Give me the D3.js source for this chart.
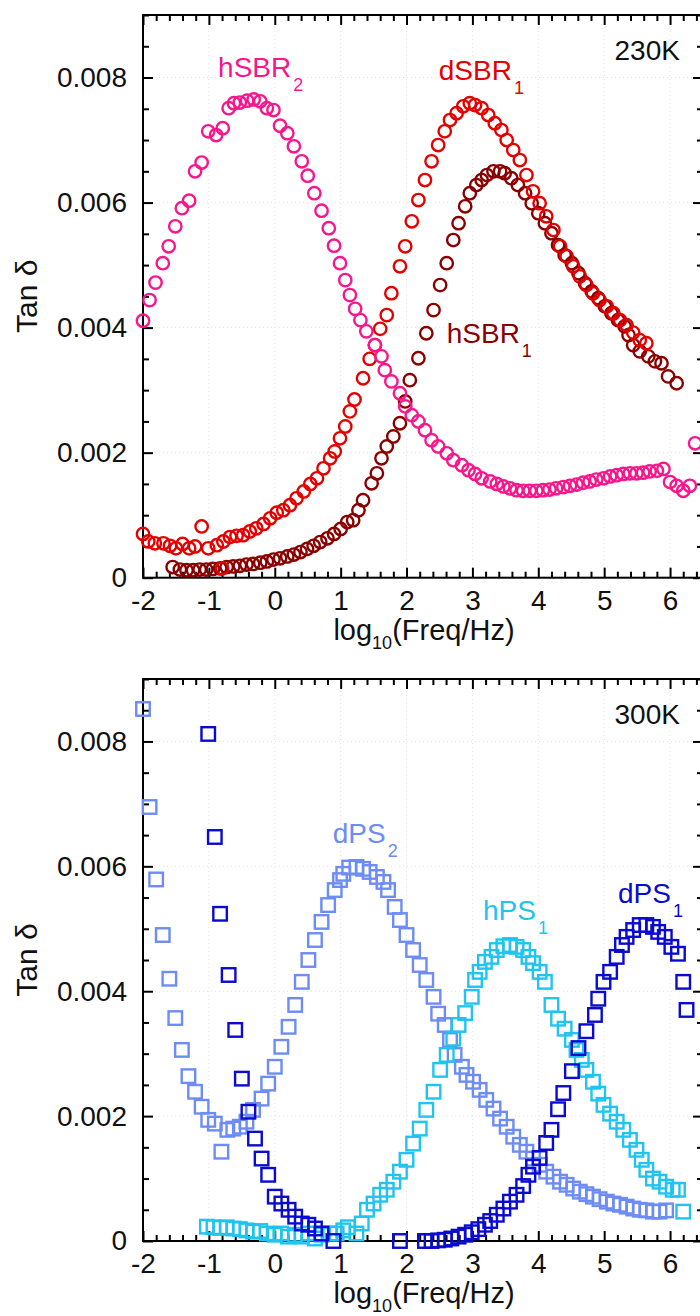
<!DOCTYPE html>
<html><head><meta charset="utf-8">
<script src="https://cdn.jsdelivr.net/npm/d3@7"></script>
<style>
body{margin:0;background:#fff}
svg{display:block}
text{font-family:"Liberation Sans",Arial,sans-serif}
</style>
</head><body><svg id="c" width="700" height="1316"></svg>
<script>
// ---------- DATA (x = log10(Freq/Hz), y = Tan delta) ----------
const xTicks = [-2,-1,0,1,2,3,4,5,6];
const yTicks = [0,0.002,0.004,0.006,0.008];

// 230 K
const hSBR2 = [[-2.00,0.00411],[-1.90,0.00444],[-1.81,0.00472],[-1.70,0.00503],[-1.61,0.00530],[-1.51,0.00562],[-1.41,0.00591],[-1.30,0.00603],[-1.21,0.00650],[-1.11,0.00664],[-1.01,0.00714],[-0.89,0.00708],[-0.79,0.00719],[-0.70,0.00751],[-0.62,0.00759],[-0.53,0.00760],[-0.42,0.00763],[-0.32,0.00765],[-0.22,0.00762],[-0.12,0.00751],[-0.02,0.00748],[0.08,0.00723],[0.19,0.00711],[0.29,0.00690],[0.41,0.00666],[0.50,0.00643],[0.60,0.00615],[0.71,0.00587],[0.82,0.00559],[0.90,0.00531],[0.99,0.00503],[1.07,0.00476],[1.14,0.00452],[1.22,0.00430],[1.30,0.00412],[1.39,0.00394],[1.52,0.00372],[1.62,0.00354],[1.67,0.00332],[1.77,0.00314],[1.90,0.00295],[1.98,0.00274],[2.08,0.00260],[2.18,0.00250],[2.28,0.00236],[2.38,0.00220],[2.48,0.00210],[2.61,0.00199],[2.71,0.00188],[2.84,0.00180],[2.94,0.00172],[3.04,0.00166],[3.14,0.00159],[3.27,0.00154],[3.37,0.00150],[3.47,0.00146],[3.57,0.00143],[3.67,0.00140],[3.77,0.00139],[3.87,0.00139],[3.97,0.00139],[4.07,0.00140],[4.17,0.00141],[4.27,0.00143],[4.38,0.00145],[4.48,0.00147],[4.58,0.00149],[4.68,0.00152],[4.78,0.00154],[4.88,0.00157],[4.99,0.00159],[5.09,0.00162],[5.19,0.00164],[5.29,0.00166],[5.39,0.00167],[5.49,0.00167],[5.59,0.00168],[5.69,0.00170],[5.80,0.00171],[5.90,0.00174],[6.00,0.00153],[6.10,0.00147],[6.20,0.00139],[6.30,0.00147],[6.38,0.00215]];

const dSBR1 = [[-2.00,0.00070],[-1.92,0.00058],[-1.82,0.00055],[-1.69,0.00055],[-1.59,0.00051],[-1.50,0.00047],[-1.40,0.00054],[-1.30,0.00047],[-1.21,0.00050],[-1.11,0.00082],[-1.01,0.00047],[-0.88,0.00052],[-0.80,0.00015],[-0.78,0.00058],[-0.68,0.00065],[-0.58,0.00067],[-0.48,0.00068],[-0.38,0.00074],[-0.28,0.00079],[-0.17,0.00086],[-0.07,0.00095],[0.03,0.00104],[0.13,0.00108],[0.23,0.00116],[0.33,0.00127],[0.44,0.00138],[0.54,0.00150],[0.64,0.00159],[0.74,0.00175],[0.84,0.00191],[0.91,0.00202],[0.99,0.00223],[1.07,0.00242],[1.14,0.00266],[1.21,0.00285],[1.34,0.00319],[1.44,0.00350],[1.52,0.00372],[1.60,0.00398],[1.70,0.00420],[1.77,0.00455],[1.90,0.00498],[1.98,0.00530],[2.08,0.00570],[2.18,0.00604],[2.28,0.00636],[2.38,0.00666],[2.48,0.00692],[2.58,0.00714],[2.66,0.00732],[2.76,0.00743],[2.86,0.00754],[2.96,0.00759],[3.04,0.00756],[3.14,0.00751],[3.24,0.00740],[3.34,0.00727],[3.44,0.00716],[3.52,0.00700],[3.62,0.00684],[3.72,0.00668],[3.82,0.00644],[3.92,0.00618],[4.02,0.00599],[4.12,0.00578],[4.23,0.00556],[4.33,0.00530],[4.43,0.00514],[4.53,0.00498],[4.63,0.00482],[4.73,0.00468],[4.83,0.00455],[4.93,0.00444],[5.04,0.00434],[5.14,0.00423],[5.24,0.00412],[5.34,0.00404],[5.44,0.00392],[5.54,0.00380],[5.64,0.00375]];

const hSBR1 = [[-1.55,0.00017],[-1.44,0.00013],[-1.34,0.00012],[-1.24,0.00012],[-1.14,0.00013],[-1.04,0.00013],[-0.94,0.00014],[-0.83,0.00015],[-0.73,0.00017],[-0.63,0.00018],[-0.53,0.00019],[-0.43,0.00021],[-0.33,0.00022],[-0.22,0.00024],[-0.12,0.00026],[-0.02,0.00029],[0.08,0.00031],[0.19,0.00034],[0.29,0.00037],[0.39,0.00041],[0.49,0.00046],[0.59,0.00051],[0.69,0.00057],[0.80,0.00063],[0.90,0.00070],[1.00,0.00078],[1.10,0.00089],[1.19,0.00092],[1.27,0.00108],[1.34,0.00124],[1.47,0.00151],[1.55,0.00167],[1.62,0.00191],[1.70,0.00210],[1.80,0.00226],[1.90,0.00247],[1.98,0.00282],[2.05,0.00316],[2.18,0.00351],[2.30,0.00391],[2.41,0.00428],[2.51,0.00468],[2.61,0.00503],[2.71,0.00540],[2.79,0.00567],[2.89,0.00594],[2.96,0.00615],[3.06,0.00628],[3.14,0.00636],[3.22,0.00644],[3.32,0.00650],[3.42,0.00650],[3.49,0.00647],[3.59,0.00639],[3.69,0.00628],[3.80,0.00615],[3.90,0.00599],[4.00,0.00583],[4.10,0.00567],[4.20,0.00551],[4.30,0.00532],[4.40,0.00516],[4.51,0.00503],[4.61,0.00487],[4.71,0.00471],[4.81,0.00458],[4.91,0.00447],[5.01,0.00434],[5.11,0.00423],[5.21,0.00412],[5.31,0.00402],[5.37,0.00388],[5.44,0.00372],[5.54,0.00362],[5.67,0.00354],[5.77,0.00346],[5.87,0.00343],[5.97,0.00322],[6.10,0.00311]];

// 300 K
const dPS2 = [[-2.00,0.00852],[-1.90,0.00695],[-1.80,0.00579],[-1.70,0.00490],[-1.60,0.00420],[-1.51,0.00357],[-1.41,0.00306],[-1.31,0.00264],[-1.21,0.00239],[-1.11,0.00215],[-1.01,0.00194],[-0.91,0.00188],[-0.81,0.00143],[-0.72,0.00178],[-0.63,0.00180],[-0.53,0.00183],[-0.43,0.00191],[-0.33,0.00210],[-0.20,0.00228],[-0.10,0.00252],[0.00,0.00279],[0.10,0.00311],[0.21,0.00343],[0.31,0.00378],[0.41,0.00415],[0.51,0.00450],[0.61,0.00482],[0.71,0.00511],[0.81,0.00538],[0.91,0.00562],[0.99,0.00578],[1.04,0.00588],[1.13,0.00598],[1.24,0.00599],[1.34,0.00596],[1.44,0.00591],[1.55,0.00583],[1.65,0.00575],[1.72,0.00562],[1.82,0.00535],[1.90,0.00514],[2.00,0.00490],[2.10,0.00466],[2.20,0.00442],[2.30,0.00418],[2.41,0.00391],[2.48,0.00364],[2.58,0.00346],[2.66,0.00322],[2.73,0.00298],[2.84,0.00279],[2.91,0.00266],[3.01,0.00255],[3.11,0.00242],[3.21,0.00226],[3.32,0.00212],[3.42,0.00196],[3.52,0.00183],[3.62,0.00167],[3.72,0.00154],[3.82,0.00143],[3.92,0.00132],[4.02,0.00122],[4.12,0.00111],[4.23,0.00103],[4.33,0.00095],[4.43,0.00090],[4.53,0.00084],[4.63,0.00079],[4.73,0.00075],[4.83,0.00071],[4.93,0.00067],[5.04,0.00063],[5.14,0.00060],[5.24,0.00058],[5.34,0.00055],[5.44,0.00052],[5.54,0.00050],[5.64,0.00049],[5.74,0.00047],[5.84,0.00047],[5.94,0.00049]];

const hPS1 = [[-1.03,0.00023],[-0.93,0.00022],[-0.83,0.00021],[-0.73,0.00022],[-0.63,0.00020],[-0.53,0.00019],[-0.43,0.00017],[-0.33,0.00015],[-0.22,0.00016],[-0.12,0.00012],[0.00,0.00010],[0.10,0.00012],[0.20,0.00007],[0.31,0.00010],[0.41,0.00007],[0.51,0.00012],[0.61,0.00004],[0.71,0.00010],[0.84,0.00012],[0.94,0.00012],[1.04,0.00017],[1.11,0.00022],[1.24,0.00012],[1.32,0.00028],[1.40,0.00050],[1.50,0.00060],[1.60,0.00074],[1.70,0.00082],[1.80,0.00095],[1.90,0.00111],[2.00,0.00130],[2.10,0.00156],[2.20,0.00180],[2.30,0.00210],[2.41,0.00239],[2.51,0.00274],[2.61,0.00298],[2.71,0.00324],[2.79,0.00346],[2.89,0.00365],[2.99,0.00391],[3.04,0.00418],[3.11,0.00431],[3.19,0.00447],[3.29,0.00455],[3.37,0.00466],[3.47,0.00472],[3.57,0.00474],[3.67,0.00471],[3.77,0.00466],[3.85,0.00455],[3.92,0.00445],[4.02,0.00431],[4.10,0.00415],[4.20,0.00378],[4.30,0.00356],[4.40,0.00340],[4.51,0.00322],[4.58,0.00306],[4.66,0.00290],[4.73,0.00274],[4.83,0.00255],[4.91,0.00236],[4.99,0.00218],[5.09,0.00204],[5.19,0.00191],[5.29,0.00178],[5.39,0.00162],[5.49,0.00146],[5.57,0.00130],[5.64,0.00114],[5.74,0.00100],[5.84,0.00095],[5.94,0.00087],[6.04,0.00082],[6.12,0.00082],[6.20,0.00047]];

const dPS1 = [[-1.01,0.00812],[-0.91,0.00647],[-0.83,0.00524],[-0.70,0.00426],[-0.60,0.00338],[-0.50,0.00260],[-0.40,0.00207],[-0.30,0.00164],[-0.20,0.00132],[-0.10,0.00106],[0.00,0.00071],[0.10,0.00060],[0.21,0.00050],[0.31,0.00039],[0.41,0.00028],[0.51,0.00026],[0.61,0.00020],[0.71,0.00012],[0.89,0.00000],[1.90,0.00000],[2.28,0.00000],[2.38,0.00000],[2.48,0.00001],[2.58,0.00002],[2.68,0.00004],[2.79,0.00007],[2.89,0.00010],[2.99,0.00014],[3.09,0.00019],[3.19,0.00026],[3.27,0.00032],[3.37,0.00042],[3.47,0.00052],[3.57,0.00063],[3.67,0.00074],[3.77,0.00088],[3.85,0.00106],[3.92,0.00119],[4.02,0.00133],[4.12,0.00157],[4.20,0.00178],[4.30,0.00211],[4.38,0.00237],[4.51,0.00272],[4.61,0.00309],[4.73,0.00336],[4.86,0.00362],[4.91,0.00388],[4.99,0.00415],[5.09,0.00431],[5.19,0.00455],[5.27,0.00474],[5.34,0.00487],[5.44,0.00498],[5.54,0.00506],[5.64,0.00506],[5.74,0.00503],[5.82,0.00495],[5.92,0.00487],[6.02,0.00471],[6.12,0.00460],[6.20,0.00415],[6.25,0.00370]];

// ---------- LAYOUT ----------
const svg = d3.select("#c");
const FONT = 28, SUB = 18;
const panels = [
  { top:15, bottom:577.7, temp:"230K", shape:"circle",
    series:[
      {name:"hSBR", sub:"1", data:hSBR1, color:"#8a0000", lx:2.61, ly:0.003755},
      {name:"dSBR", sub:"1", data:dSBR1, color:"#e50000", lx:2.49, ly:0.00796},
      {name:"hSBR", sub:"2", data:hSBR2, color:"#f8168c", lx:-0.86, ly:0.00801}
    ]},
  { top:679, bottom:1241, temp:"300K", shape:"square",
    series:[
      {name:"dPS", sub:"2", data:dPS2, color:"#6d8cf5", lx:0.88, ly:0.00638},
      {name:"hPS", sub:"1", data:hPS1, color:"#20c4f0", lx:3.16, ly:0.005136},
      {name:"dPS", sub:"1", data:dPS1, color:"#0a0ad0", lx:5.21, ly:0.005408}
    ]}
];

const minorX = d3.range(-2, 6.5001, 0.2).map(v=>+v.toFixed(2)).filter(v=>Math.abs(v-Math.round(v))>1e-6);
const minorY = d3.range(0, 0.00901, 0.0005).map(v=>+v.toFixed(4)).filter(v=>Math.abs(v/0.002-Math.round(v/0.002))>1e-6);

panels.forEach(p=>{
  const x = d3.scaleLinear().domain([-2,6.5]).range([143,703]);
  const y = d3.scaleLinear().domain([0,0.009]).range([p.bottom,p.top]);
  const g = svg.append("g");

  // faint grid
  const grid = g.append("g").attr("stroke","#e4e4e4").attr("stroke-width",1).attr("stroke-dasharray","1,3");
  grid.selectAll("line.gx").data(xTicks.slice(1)).join("line").attr("class","gx")
    .attr("x1",d=>x(d)).attr("x2",d=>x(d)).attr("y1",p.top).attr("y2",p.bottom);
  grid.selectAll("line.gy").data(yTicks.slice(1)).join("line").attr("class","gy")
    .attr("y1",d=>y(d)).attr("y2",d=>y(d)).attr("x1",143).attr("x2",703);

  function style(sel){
    sel.select(".domain").remove();
    sel.selectAll(".tick line").attr("stroke","#000").attr("stroke-width",2);
    sel.selectAll(".tick text").attr("fill","#111").attr("font-size",FONT)
       .attr("font-family",'"Liberation Sans",Arial,sans-serif');
  }
  // bottom
  g.append("g").attr("transform",`translate(0,${p.bottom})`)
    .call(d3.axisBottom(x).tickValues(xTicks).tickSize(-10).tickPadding(12).tickFormat(d=>String(d))).call(style);
  g.append("g").attr("transform",`translate(0,${p.bottom})`)
    .call(d3.axisBottom(x).tickValues(minorX).tickSize(-6).tickFormat("")).call(style);
  // top
  g.append("g").attr("transform",`translate(0,${p.top})`)
    .call(d3.axisTop(x).tickValues(xTicks).tickSize(-10).tickFormat("")).call(style);
  g.append("g").attr("transform",`translate(0,${p.top})`)
    .call(d3.axisTop(x).tickValues(minorX).tickSize(-6).tickFormat("")).call(style);
  // left
  g.append("g").attr("transform",`translate(143,0)`)
    .call(d3.axisLeft(y).tickValues(yTicks).tickSize(-10).tickPadding(16).tickFormat(d=>d===0?"0":d.toFixed(3))).call(style);
  g.append("g").attr("transform",`translate(143,0)`)
    .call(d3.axisLeft(y).tickValues(minorY).tickSize(-6).tickFormat("")).call(style);
  // right
  g.append("g").attr("transform",`translate(703,0)`)
    .call(d3.axisRight(y).tickValues(yTicks).tickSize(-10).tickFormat("")).call(style);
  g.append("g").attr("transform",`translate(703,0)`)
    .call(d3.axisRight(y).tickValues(minorY).tickSize(-6).tickFormat("")).call(style);

  // frame
  g.append("rect").attr("x",143).attr("y",p.top).attr("width",703-143).attr("height",p.bottom-p.top)
    .attr("fill","none").attr("stroke","#000").attr("stroke-width",2);

  // data
  p.series.forEach(s=>{
    const sg = g.append("g").attr("fill","none").attr("stroke",s.color).attr("stroke-width",2.4);
    if(p.shape==="circle"){
      sg.selectAll("circle").data(s.data).join("circle")
        .attr("cx",d=>x(d[0])).attr("cy",d=>y(d[1])).attr("r",6.2);
    } else {
      const a=13.5;
      sg.selectAll("rect").data(s.data).join("rect")
        .attr("x",d=>x(d[0])-a/2).attr("y",d=>y(d[1])-a/2).attr("width",a).attr("height",a);
    }
  });
  // series labels
  p.series.forEach(s=>{
    const t = g.append("text").attr("x",x(s.lx)).attr("y",y(s.ly)).attr("fill",s.color).attr("font-size",FONT);
    t.append("tspan").text(s.name);
    t.append("tspan").attr("font-size",SUB).attr("dy",14).attr("dx",2).text(s.sub);
  });
  // temperature
  g.append("text").attr("x",x(6.15)).attr("y",y(0.00828)).attr("text-anchor","end")
    .attr("font-size",FONT).attr("fill","#111").text(p.temp);

  // axis titles
  const mid = (p.top+p.bottom)/2;
  g.append("text").attr("transform",`translate(37,${mid})rotate(-90)`).attr("text-anchor","middle")
    .attr("font-size",30).attr("fill","#111").text("Tan δ");
  const xt = g.append("text").attr("x",424).attr("y",p.bottom+62).attr("text-anchor","middle")
    .attr("font-size",29).attr("fill","#111");
  xt.append("tspan").text("log");
  xt.append("tspan").attr("font-size",SUB).attr("dy",9).text("10");
  xt.append("tspan").attr("dy",-9).text("(Freq/Hz)");
});
</script>
</body></html>
